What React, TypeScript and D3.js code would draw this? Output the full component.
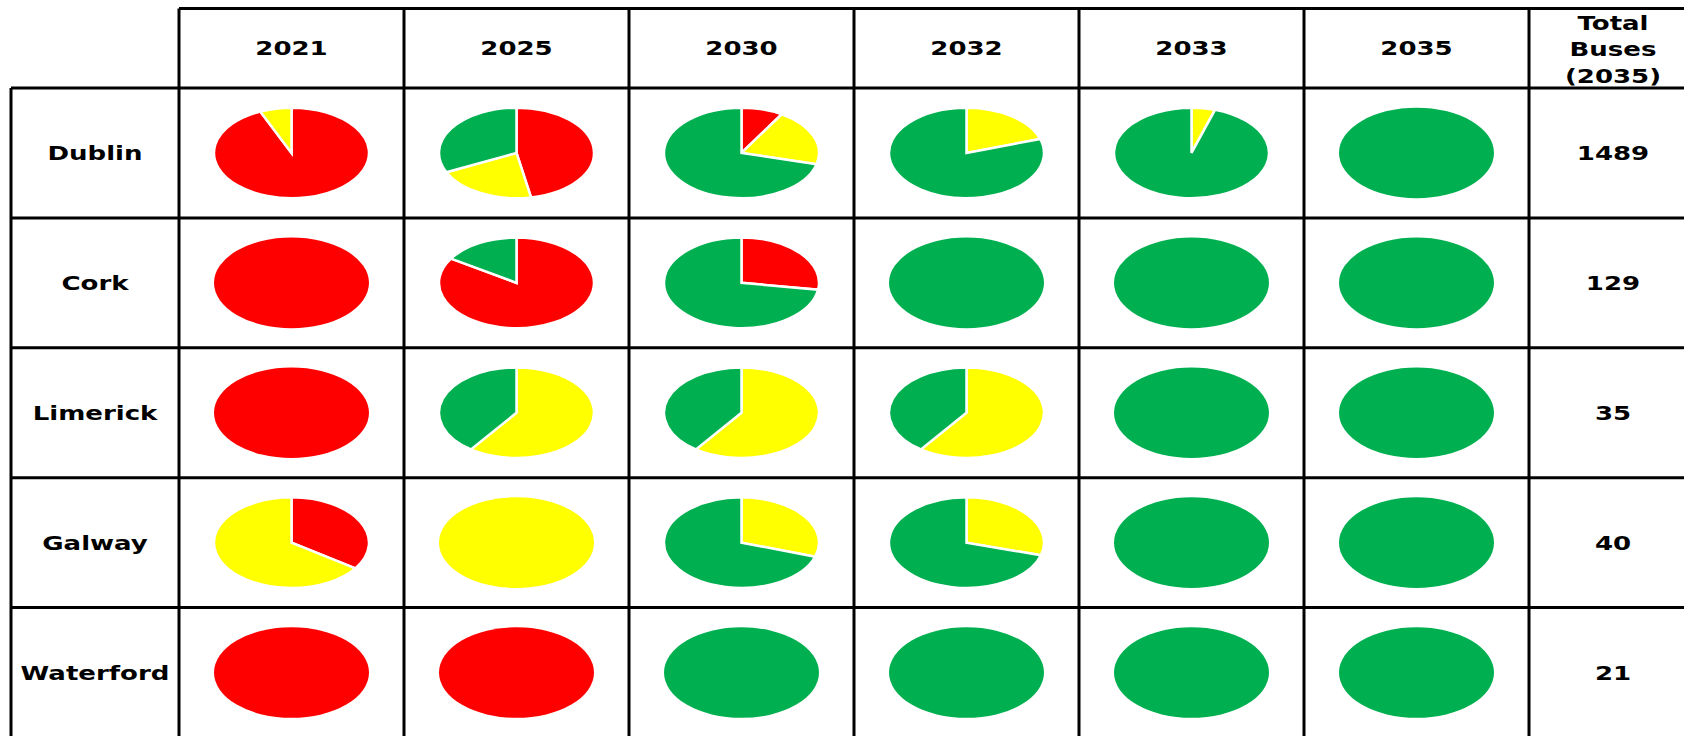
import React from "react";
import * as d3 from "d3";

// ---- data ----
const cities = ["Dublin", "Cork", "Limerick", "Galway", "Waterford"];
const years = ["2021", "2025", "2030", "2032", "2033", "2035"];
const totalHeader = ["Total", "Buses", "(2035)"];
const totalBuses = [1489, 129, 35, 40, 21];

const seriesNames = ["Diesel", "Hybrid", "Zero emission"];
const seriesColors = ["#FF0000", "#FFFF00", "#00B050"];

// share of fleet (%) per city (rows) and year (columns)
const redShare = [
  [93.4, 47, 8.7, 0, 0, 0],
  [100, 84, 27.4, 0, 0, 0],
  [100, 0, 0, 0, 0, 0],
  [34.6, 0, 0, 0, 0, 0],
  [100, 100, 0, 0, 0, 0],
];
const yellowShare = [
  [6.6, 21, 20.3, 20, 4.9, 0],
  [0, 0, 0, 0, 0, 0],
  [0, 60, 60, 60, 0, 0],
  [65.4, 100, 30, 29.5, 0, 0],
  [0, 0, 0, 0, 0, 0],
];
const greenShare = [
  [0, 32, 71, 80, 95.1, 100],
  [0, 16, 72.6, 100, 100, 100],
  [0, 40, 40, 40, 100, 100],
  [0, 0, 70, 70.5, 100, 100],
  [0, 0, 100, 100, 100, 100],
];

const W = 1684;
const H = 736;

export default function App() {
  const colX = d3.scaleBand<string>().domain(years).range([179, 1529]).paddingInner(0).paddingOuter(0);
  const rowY = d3.scaleBand<string>().domain(cities).range([88, 737.5]);
  const totalLeft = 1529;
  const totalRight = 1697;
  const labelLeft = 11;
  const topY = 8.5;
  const bottomY = 737.5;

  const R = 100;
  const rx = 77.5;
  const ry = 45.3;
  const arc = d3.arc<d3.PieArcDatum<{ name: string; value: number; color: string }>>()
    .innerRadius(0)
    .outerRadius(R);
  const pie = d3.pie<{ name: string; value: number; color: string }>()
    .sort(null)
    .value((d) => d.value)
    .startAngle(0)
    .endAngle(2 * Math.PI);

  const fontProps = {
    fontFamily: "'DejaVu Sans', Verdana, sans-serif",
    fontWeight: 700,
    fontSize: 19,
    fill: "#000",
    textAnchor: "middle" as const,
  };
  const sx = 1.37;
  const txt = (x: number, y: number, s: string | number, key: string) => (
    <text key={key} transform={`translate(${x},${y}) scale(${sx},1)`} {...fontProps}>
      {s}
    </text>
  );

  const bw = colX.bandwidth();
  const bh = rowY.bandwidth();
  const lineStroke = { stroke: "#000", strokeWidth: 3 };

  return (
    <svg width={W} height={H} style={{ position: "fixed", left: 0, top: 0, display: "block", background: "#fff" }}>
      <rect x={0} y={0} width={W} height={H} fill="#fff" />
      {/* pies */}
      {cities.map((city, i) =>
        years.map((yr, j) => {
          const data = [redShare[i][j], yellowShare[i][j], greenShare[i][j]]
            .map((v, k) => ({ name: seriesNames[k], value: v, color: seriesColors[k] }))
            .filter((d) => d.value > 0);
          const cx = (colX(yr) as number) + bw / 2;
          const cy = (rowY(city) as number) + bh / 2;
          const multi = data.length > 1;
          return (
            <g key={city + yr} transform={`translate(${cx},${cy}) scale(${rx / R},${ry / R})`}>
              {pie(data).map((a) => (
                <path
                  key={a.data.name}
                  d={arc(a) as string}
                  fill={a.data.color}
                  stroke={multi ? "#fff" : "none"}
                  strokeWidth={2.5}
                  vectorEffect="non-scaling-stroke"
                />
              ))}
            </g>
          );
        })
      )}
      {/* grid lines */}
      <line x1={colX(years[0])} x2={W} y1={topY} y2={topY} {...lineStroke} />
      {cities.map((c) => (
        <line key={"h" + c} x1={labelLeft} x2={W} y1={rowY(c)} y2={rowY(c)} {...lineStroke} />
      ))}
      <line x1={labelLeft} x2={labelLeft} y1={rowY(cities[0])} y2={bottomY} {...lineStroke} />
      {years.map((yr) => (
        <line key={"v" + yr} x1={colX(yr)} x2={colX(yr)} y1={topY} y2={bottomY} {...lineStroke} />
      ))}
      <line x1={totalLeft} x2={totalLeft} y1={topY} y2={bottomY} {...lineStroke} />
      {/* header texts */}
      {years.map((yr) => txt((colX(yr) as number) + bw / 2, 55, yr, "y" + yr))}
      {totalHeader.map((s, k) => txt((totalLeft + totalRight) / 2, 30 + k * 26.3, s, "t" + k))}
      {/* row labels and totals */}
      {cities.map((c, i) => {
        const cy = (rowY(c) as number) + bh / 2 + 7;
        return (
          <g key={"r" + c}>
            {txt((labelLeft + (colX(years[0]) as number)) / 2, cy, c, "c" + c)}
            {txt((totalLeft + totalRight) / 2, cy, totalBuses[i], "n" + c)}
          </g>
        );
      })}
    </svg>
  );
}
